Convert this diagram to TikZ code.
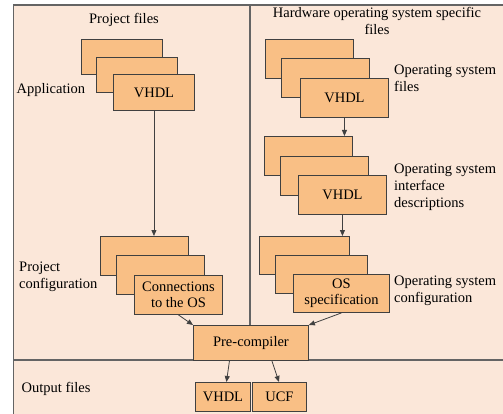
\documentclass[tikz,border=0pt]{standalone}
\usepackage{fontspec}
\setmainfont{Liberation Serif}
\usetikzlibrary{arrows.meta}
\definecolor{bgpeach}{RGB}{251,231,217}
\definecolor{boxorange}{RGB}{249,191,133}
\definecolor{edgegray}{RGB}{64,64,64}
\definecolor{framegray}{RGB}{100,100,100}
\tikzset{
  filebox/.style={draw=edgegray, fill=boxorange, line width=0.9pt, anchor=north west, inner sep=0pt, align=center, font=\fontsize{14.5}{16}\selectfont},
  lbl/.style={inner sep=0pt, align=left, font=\fontsize{14.5}{17}\selectfont},
  ttl/.style={inner sep=0pt, align=center, font=\fontsize{14.5}{17}\selectfont},
  conn/.style={draw=edgegray, line width=0.8pt, -{Triangle[length=6pt,width=5pt]}},
  frame/.style={draw=framegray, line width=1.2pt}
}
\begin{document}
\begin{tikzpicture}[x=1pt,y=-1pt]
\useasboundingbox (0,0) rectangle (503,414);
% background and frame
\fill[bgpeach] (13.5,5) rectangle (503,414);
\draw[frame] (13.5,414) -- (13.5,5) -- (503,5);
\draw[frame] (250,5) -- (250,360);
\draw[frame] (13.5,360) -- (503,360);
% titles
\node[ttl, anchor=base] (tproj) at (124,23.5) {Project files};
\node[ttl, anchor=north] (thw) at (377,7.5) {Hardware operating system specific\\files};
% application stack
\node[filebox, minimum width=81, minimum height=35] (app1) at (81,39) {};
\node[filebox, minimum width=81, minimum height=35] (app2) at (96,57) {};
\node[filebox, minimum width=81, minimum height=36] (app3) at (113,74) {VHDL};
\node[lbl, anchor=base west] (lapp) at (16.5,94) {Application};
% project configuration stack
\node[filebox, minimum width=88, minimum height=39] (cfg1) at (100,236) {};
\node[filebox, minimum width=88, minimum height=39] (cfg2) at (116,255) {};
\node[filebox, minimum width=88, minimum height=39] (cfg3) at (134,275) {Connections\\to the OS};
\node[lbl, anchor=west] (lcfg) at (19,277) {Project\\configuration};
% OS files stack
\node[filebox, minimum width=88, minimum height=39] (os1) at (265,39) {};
\node[filebox, minimum width=88, minimum height=39] (os2) at (281,58) {};
\node[filebox, minimum width=88, minimum height=39] (os3) at (300,78) {VHDL};
\node[lbl, anchor=west] (los) at (394,78) {Operating system\\files};
% OS interface stack
\node[filebox, minimum width=88, minimum height=39] (if1) at (264,136) {};
\node[filebox, minimum width=88, minimum height=39] (if2) at (280,156) {};
\node[filebox, minimum width=88, minimum height=39] (if3) at (298,175) {VHDL};
\node[lbl, anchor=west] (lif) at (394,187) {Operating system\\interface\\descriptions};
% OS configuration stack
\node[filebox, minimum width=90, minimum height=38] (sp1) at (259,236) {};
\node[filebox, minimum width=92, minimum height=38] (sp2) at (275,255) {};
\node[filebox, minimum width=96, minimum height=38] (sp3) at (293,274) {OS\\specification};
\node[lbl, anchor=west] (lsp) at (394,291) {Operating system\\configuration};
% pre-compiler
\node[filebox, minimum width=115, minimum height=35] (pre) at (193,325) {Pre-compiler};
% outputs
\node[filebox, minimum width=55, minimum height=29] (vout) at (195,382) {VHDL};
\node[filebox, minimum width=54, minimum height=29] (ucf) at (252,382) {UCF};
\node[lbl, anchor=base west] (lout) at (21.5,392.5) {Output files};
% connectors
\draw[conn] (app3.south) -- (app3.south |- cfg1.north);
\draw[conn] (os3.south) -- (os3.south |- if1.north);
\draw[conn] (if3.south) -- (if3.south |- sp1.north);
\draw[conn] (cfg3.south) -- (pre.north west);
\draw[conn] (sp3.south) -- (pre.north east);
\draw[conn] ([xshift=-21.5pt]pre.south) -- ([xshift=3.5pt]vout.north);
\draw[conn] ([xshift=21pt]pre.south) -- ([xshift=-0.5pt]ucf.north);
\end{tikzpicture}
\end{document}
